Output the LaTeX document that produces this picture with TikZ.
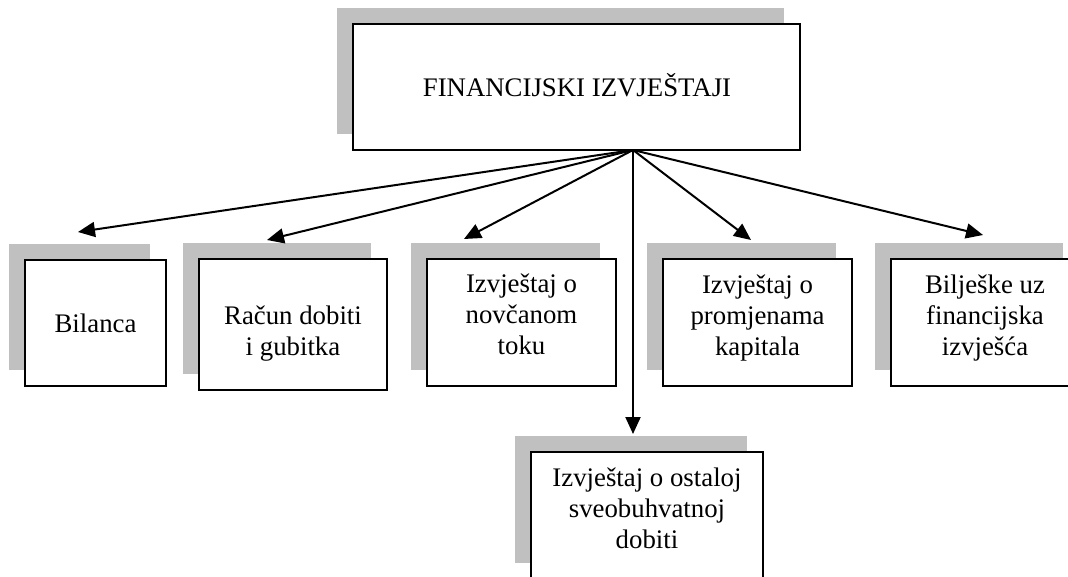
\documentclass[tikz,border=0pt]{standalone}
\usepackage{fontspec}
\setmainfont{Liberation Serif}
\usetikzlibrary{arrows.meta,shadows}
\definecolor{shadowgray}{RGB}{192,192,192}
\begin{document}
\begin{tikzpicture}[x=1pt,y=-1pt,
  fbox/.style={draw=black, line width=1.8pt, fill=white, inner sep=0pt,
    general shadow={fill=shadowgray, draw=none, shadow xshift=-16pt, shadow yshift=16pt}},
  lbl/.style={align=center, inner sep=0pt, font=\fontsize{26.8}{31}\selectfont},
  arr/.style={line width=2pt, -{Triangle[length=17pt,width=15pt]}}
]
\useasboundingbox (0,0) rectangle (1068,576);
\clip (0,0) rectangle (1068,576);
% boxes
\node[fbox, line width=2.3pt, minimum width=447pt, minimum height=126pt] (fin) at (576.5,87) {};
\node[fbox, minimum width=141pt, minimum height=126pt] (bil) at (95.5,323) {};
\node[fbox, minimum width=188pt, minimum height=131pt] (rac) at (293,324.5) {};
\node[fbox, minimum width=189pt, minimum height=127pt] (nov) at (521.5,322.5) {};
\node[fbox, minimum width=189pt, minimum height=127pt] (pro) at (757.5,322.5) {};
\node[fbox, minimum width=188pt, minimum height=127pt] (bis) at (985,322.5) {};
\node[fbox, minimum width=232pt, minimum height=127pt] (ost) at (647,515.5) {};
% texts
\node[lbl, anchor=base] (finT) at (577,96.5) {FINANCIJSKI IZVJEŠTAJI};
\node[lbl, anchor=base] (bilT) at (95.5,332) {Bilanca};
\node[lbl] (racT) at (293,334) {Račun dobiti\\ i gubitka};
\node[lbl] (novT) at (521.5,314.5) {Izvještaj o\\ novčanom\\ toku};
\node[lbl] (proT) at (757.5,317.6) {Izvještaj o\\ promjenama\\ kapitala};
\node[lbl] (bisT) at (985,317.6) {Bilješke uz\\ financijska\\ izvješća};
\node[lbl] (ostT) at (647,508.75) {Izvještaj o ostaloj\\ sveobuhvatnoj\\ dobiti};
% connectors
\coordinate (o) at (633,150);
\coordinate (t1) at (78,232);
\coordinate (t2) at (267,240);
\coordinate (t3) at (464,239);
\coordinate (t4) at (633,434);
\coordinate (t5) at (751,240);
\coordinate (t6) at (983,235);
\foreach \t in {t1,t2,t3,t4,t5,t6} \draw[arr] (o) -- (\t);
\end{tikzpicture}
\end{document}
